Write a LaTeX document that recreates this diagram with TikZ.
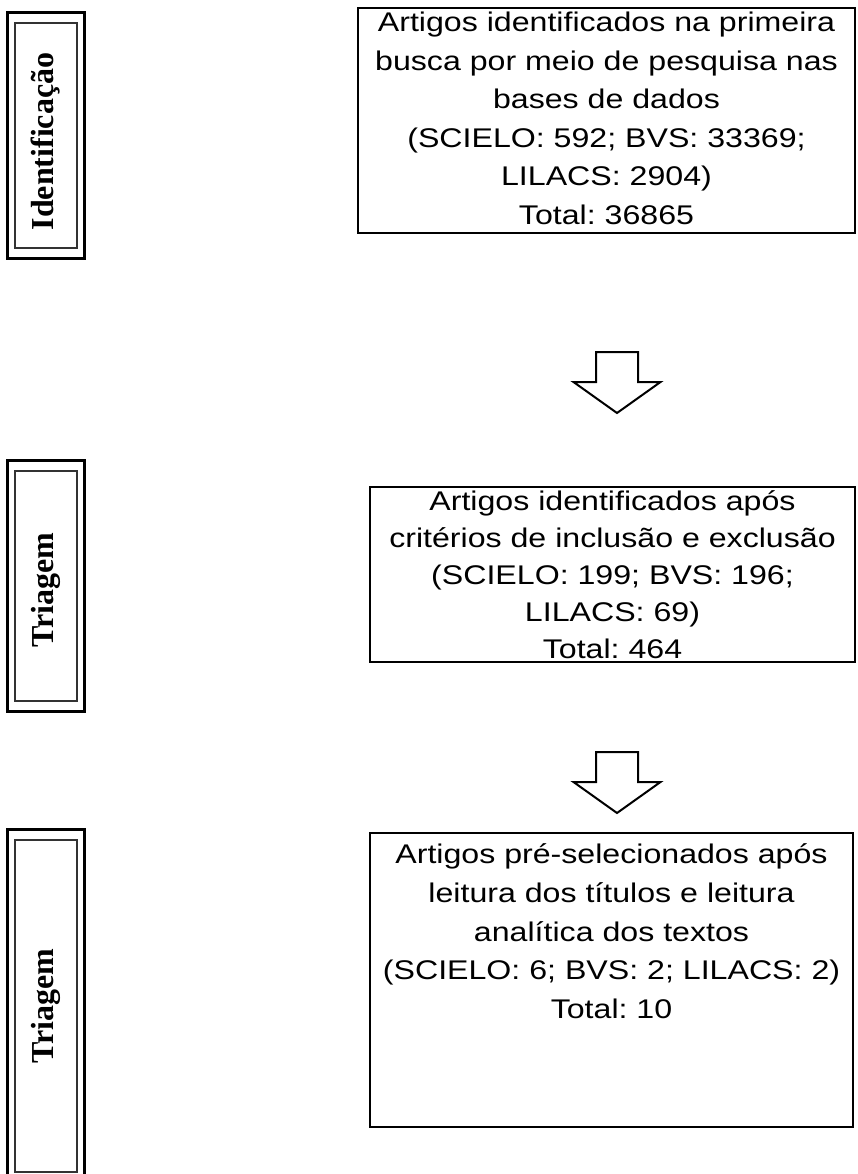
\documentclass[tikz,border=0pt]{standalone}
\usepackage{fontspec}
\setmainfont{Liberation Serif}
\newfontfamily\boxfont[FakeStretch=1.19]{Liberation Sans}
\usetikzlibrary{positioning,fit}
\tikzset{
    stage/.style={
           rectangle,
           draw=black, line width=2pt,
           inner sep=0pt,
           text centered,
           font=\boxfont\fontsize{27}{38.6}\selectfont\frenchspacing,
           },
    phase/.style={
           rectangle,
           draw=black!80, line width=1.4pt,
           inner sep=0pt,
           font=\bfseries\fontsize{32}{38}\selectfont,
           },
    phaseframe/.style={
           rectangle,
           draw=black, line width=3pt,
           inner xsep=6.5pt, inner ysep=9.5pt,
           },
    downarrow/.style={
           draw=black, line width=2pt,
           fill=white, line join=miter,
           },
}

\begin{document}
\begin{tikzpicture}[x=1pt,y=1pt]

 \useasboundingbox (0,0) rectangle (857,-1174);

 % fases (esquerda)
 \node[phase, minimum width=62pt, minimum height=225pt] (ident) at (46,-135.5)
 {\rotatebox{90}{Identificação\hspace{12pt}}};
 \node[phaseframe, fit=(ident)] (identframe) {};

 \node[phase, minimum width=62pt, minimum height=230pt] (triag1) at (46,-586)
 {\rotatebox{90}{Triagem\hspace{8pt}}};
 \node[phaseframe, fit=(triag1)] (triag1frame) {};

 \node[phase, minimum width=62pt, minimum height=332pt] (triag2) at (46,-1006)
 {\rotatebox{90}{Triagem}};
 \node[phaseframe, fit=(triag2)] (triag2frame) {};

 % caixas (direita)
 \node[stage] (busca) at (606.5,-120.5)
 {\parbox[c][225pt][t]{497pt}{\centering\vspace*{4pt}%
  Artigos identificados na primeira\\
  busca por meio de pesquisa nas\\
  bases de dados\\
  (SCIELO: 592; BVS: 33369;\\
  LILACS: 2904)\\
  Total: 36865}};

 \node[stage] (criterios) at (612.5,-574.5)
 {\parbox[c][175pt][t]{485pt}{\centering\baselineskip=37pt\vspace*{4pt}%
  Artigos identificados após\\
  critérios de inclusão e exclusão\\
  (SCIELO: 199; BVS: 196;\\
  LILACS: 69)\\
  Total: 464}};

 \node[stage] (leitura) at (611.5,-980)
 {\parbox[c][294pt][t]{483pt}{\centering\vspace*{11pt}%
  Artigos pré-selecionados após\\
  leitura dos títulos e leitura\\
  analítica dos textos\\
  (SCIELO: 6; BVS: 2; LILACS: 2)\\
  Total: 10}};

 % setas
 \coordinate (seta1) at (617,-352);
 \coordinate (seta2) at (617,-752);
 \draw[downarrow] (seta1) +(-21,0) -- +(21,0) -- +(21,-30) -- +(43.5,-30)
   -- +(0,-61) -- +(-43.5,-30) -- +(-21,-30) -- cycle;
 \draw[downarrow] (seta2) +(-21,0) -- +(21,0) -- +(21,-30) -- +(43.5,-30)
   -- +(0,-61) -- +(-43.5,-30) -- +(-21,-30) -- cycle;

\end{tikzpicture}
\end{document}
